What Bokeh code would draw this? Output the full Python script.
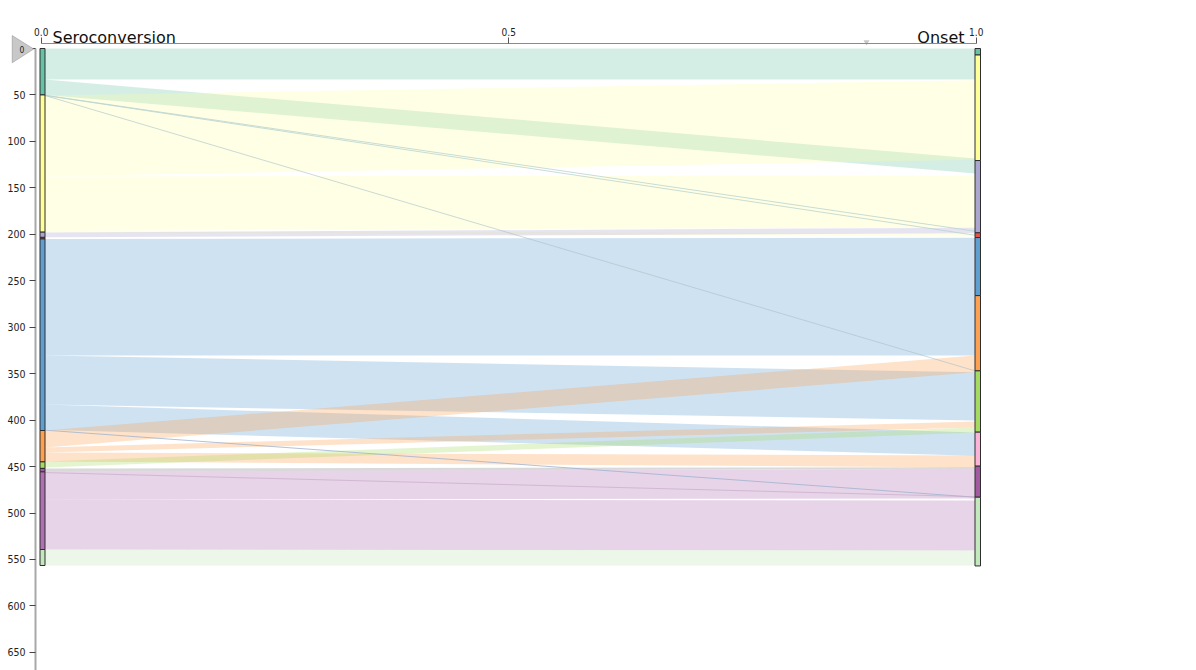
from bokeh.plotting import figure
from bokeh.models import (Range1d, FixedTicker, PrintfTickFormatter, Label,
                          PolyAnnotation, ColumnDataSource)
from bokeh.embed import file_html
from bokeh.resources import INLINE

# ---------------- data ----------------
state_colors = {
    "teal": "#66c2a5", "yellow": "#ffff99", "lavender": "#aba6d0",
    "red": "#e5514b", "blue": "#5f9fd0", "orange": "#fda04f",
    "green": "#a6d95f", "pink": "#fbb4d8", "darkpurple": "#a3599f",
    "purple": "#b071b3", "lightgreen": "#c4e8bd", "gray": "#808080",
}
band_alpha = {
    "teal": 0.28, "yellow": 0.25, "lavender": 0.3, "red": 0.3, "blue": 0.3,
    "orange": 0.3, "green": 0.3, "pink": 0.3, "darkpurple": 0.3,
    "purple": 0.3, "lightgreen": 0.33, "gray": 0.3,
}

# Seroconversion (left axis) state segments
left_state = ["teal", "yellow", "lavender", "red", "blue", "orange",
              "green", "darkpurple", "purple", "lightgreen"]
left_start = [0, 50, 197.7, 203.3, 205, 411.2, 445, 452, 455.7, 539.3]
left_end = [50, 197.7, 203.3, 205, 411.2, 445, 452, 455.7, 539.3, 556.5]

# Onset (right axis) state segments
right_state = ["teal", "yellow", "lavender", "red", "blue", "orange",
               "green", "pink", "darkpurple", "lightgreen"]
right_start = [0, 7, 120.6, 198.4, 203.5, 266, 347, 413, 449.6, 483]
right_end = [7, 120.6, 198.4, 203.5, 266, 347, 413, 449.6, 483, 557]

# transition bands: state, left top, left bottom, right top, right bottom
flow_state = ["teal", "teal", "yellow", "yellow", "yellow", "lavender",
              "blue", "blue", "blue", "orange", "orange", "orange",
              "green", "gray", "purple", "purple", "lightgreen"]
flow_l0 = [0, 33.4, 50.5, 137.8, 195.5, 198, 205, 330.5, 383.3, 411.2,
           429.5, 434.9, 444.6, 452, 455.5, 485.5, 539.3]
flow_l1 = [33.4, 50, 137.5, 195.5, 197.7, 203.3, 330.5, 383.3, 410.5,
           429.5, 434.9, 444.6, 451, 455.5, 485.5, 539.3, 556.5]
flow_r0 = [0, 118.4, 34.2, 136.7, 199.3, 193, 203.6, 348.6, 413.3, 330.5,
           401.5, 438.1, 407.9, 450.8, 452.5, 486.5, 540.4]
flow_r1 = [33.4, 134.5, 119.8, 193, 202.5, 199, 330.5, 400.4, 438.3, 348.6,
           407.9, 450.9, 413.3, 452.3, 484.4, 540.4, 556.5]

# single-sequence paths
path_left = [50.3, 50.5, 50.6, 410.8, 456.5]
path_right = [196.7, 201, 347, 483, 482.5]
path_color = ["#b9d3cf", "#b9d3cf", "#a9bfc6", "#9fb3d0", "#c7abcb"]
path_alpha = [0.8, 0.8, 0.6, 0.8, 0.7]

x_ticks = [0.0, 0.5, 1.0]
y_ticks = list(range(0, 700, 50))
left_title = "Seroconversion"
right_title = "Onset"

# ---------------- layout constants ----------------
W, H = 1190, 670
PX_X = 935.0      # pixels per x unit
PX_Y = 0.929      # pixels per y unit
X0, Y0 = 40.7, 48.0   # pixel position of x=0 / y=0


def dx(px):
    return (px - X0) / PX_X


def dy(py):
    return (py - Y0) / PX_Y


BAR_L = (dx(39.5), dx(44.5))
BAR_R = (dx(974.5), dx(980))

p = figure(width=W, height=H, output_backend="svg", toolbar_location=None,
           x_range=Range1d(dx(0), dx(W)), y_range=Range1d(dy(H), dy(0)),
           x_axis_location="above", y_axis_location="left",
           min_border_left=0, min_border_top=0, min_border_right=0,
           min_border_bottom=0, background_fill_color="white",
           border_fill_color="white", outline_line_color=None)
p.grid.visible = False

# bands
xs, ys, fc, fa = [], [], [], []
for s, l0, l1, r0, r1 in zip(flow_state, flow_l0, flow_l1, flow_r0, flow_r1):
    xs.append([BAR_L[1], BAR_R[0], BAR_R[0], BAR_L[1]])
    ys.append([l0, r0, r1, l1])
    fc.append(state_colors[s])
    fa.append(band_alpha[s])
p.patches(xs="xs", ys="ys", fill_color="fc", fill_alpha="fa", line_color=None,
          source=ColumnDataSource(dict(xs=xs, ys=ys, fc=fc, fa=fa)))

# thin paths
p.segment(x0=[BAR_L[1]] * len(path_left), y0=path_left,
          x1=[BAR_R[0]] * len(path_right), y1=path_right,
          line_color=path_color, line_alpha=path_alpha, line_width=1)

# axis bars
p.quad(left=[BAR_L[0]] * len(left_state), right=[BAR_L[1]] * len(left_state),
       top=left_start, bottom=left_end,
       fill_color=[state_colors[s] for s in left_state],
       line_color="#2e2e2e", line_width=1)
p.quad(left=[BAR_R[0]] * len(right_state), right=[BAR_R[1]] * len(right_state),
       top=right_start, bottom=right_end,
       fill_color=[state_colors[s] for s in right_state],
       line_color="#2e2e2e", line_width=1)

# axes (drawn inside the frame at fixed locations)
xa = p.xaxis[0]
xa.fixed_location = dy(43)
xa.ticker = FixedTicker(ticks=x_ticks)
xa.formatter = PrintfTickFormatter(format="%.1f")
xa.bounds = (0, 1)
xa.axis_line_color = "#8a8a8a"
xa.major_tick_line_color = "#555555"
xa.major_tick_out = 6
xa.major_tick_in = 0
xa.minor_tick_line_color = None
xa.major_label_standoff = 2
xa.major_label_text_font = "DejaVu Sans Condensed"
xa.major_label_text_font_size = "10px"
xa.major_label_text_color = "#222222"

ya = p.yaxis[0]
ya.fixed_location = dx(35)
ya.ticker = FixedTicker(ticks=y_ticks)
ya.bounds = (0, 700)
ya.axis_line_color = "#a8a8a8"
ya.axis_line_width = 2
ya.major_tick_line_color = "#444444"
ya.major_tick_out = 6
ya.major_tick_in = 0
ya.minor_tick_line_color = None
ya.major_label_standoff = 4
ya.major_label_text_font = "DejaVu Sans Condensed"
ya.major_label_text_font_size = "10.5px"
ya.major_label_text_color = "#222222"

# axis titles
p.add_layout(Label(x=dx(52), y=dy(36.7), text=left_title, text_align="left",
                   text_baseline="alphabetic", text_font="DejaVu Sans",
                   text_font_size="16px", text_color="#111111"))
p.add_layout(Label(x=dx(964), y=dy(36.7), text=right_title, text_align="right",
                   text_baseline="alphabetic", text_font="DejaVu Sans",
                   text_font_size="16px", text_color="#111111"))

# small brush marker on the top axis
p.scatter(x=[dx(866)], y=[dy(41.5)], marker="inverted_triangle", size=6,
          fill_color="#c8c8c8", line_color=None)

# slider handle at 0
p.add_layout(PolyAnnotation(xs=[dx(11.7), dx(33.3), dx(11.7)],
                            ys=[dy(35), dy(48.5), dy(62.3)],
                            fill_color="#c8c8c8", fill_alpha=1,
                            line_color="#5a5a5a", line_width=1))
p.add_layout(Label(x=dx(21.5), y=dy(48.8), text="0", text_align="center",
                   text_baseline="middle", text_font="DejaVu Sans Condensed",
                   text_font_size="8.5px", text_color="#222222"))

open("out.html", "w").write(file_html(p, INLINE))
